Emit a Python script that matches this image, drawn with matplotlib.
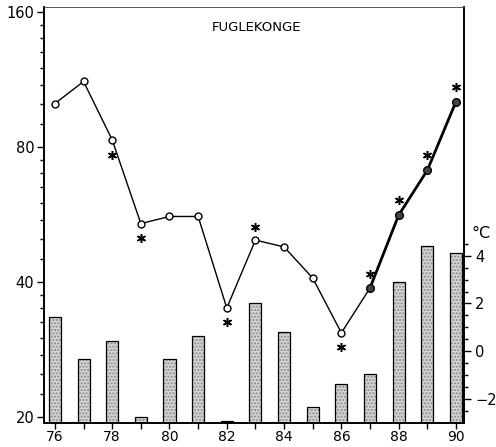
import numpy as np
import matplotlib.pyplot as plt
from matplotlib.ticker import FixedLocator, NullFormatter

# years on the x axis
years = np.arange(76, 91)

# bird index (log scale, left axis)
index = [100, 112, 83, 54, 56, 56, 35, 49.6, 47.9, 40.8, 30.8, 38.8, 56.4, 71, 101]
# asterisk estimates
star_years = [78, 79, 82, 83, 86, 87, 88, 89, 90]
star_vals = [76.8, 50.1, 32.6, 53.1, 28.7, 41.7, 60.9, 76.8, 108.7]
# temperature bars (right axis, degC)
temp = [1.42, -0.33, 0.42, -2.75, -0.33, 0.63, -2.9, 2.03, 0.8, -2.32,
        -1.37, -0.97, 2.9, 4.4, 4.12]

fig = plt.figure(figsize=(4.96, 4.47), dpi=100)
ax = fig.add_axes([44/496, 24/447, 420/496, 416/447])
ax2 = ax.twinx()
ax.set_zorder(ax2.get_zorder() + 1)
ax.patch.set_visible(False)

# bars from the bottom of the axis
base = -3
ax2.bar(years, np.array(temp) - base, bottom=base, width=0.42,
        color='#d4d4d4', edgecolor='#8a8a8a', hatch='.....', linewidth=0)
ax2.bar(years, np.array(temp) - base, bottom=base, width=0.42,
        fill=False, edgecolor='black', linewidth=0.9)
ax2.set_ylim(-3, 14.4)
ax2.set_yticks([-2, 0, 2, 4])
ax2.yaxis.set_minor_locator(FixedLocator([-2.5, -1.5, -1, -0.5, 0.5, 1, 1.5, 2.5, 3, 3.5, 4.5]))
ax2.tick_params(axis='y', which='major', length=5, width=1, labelsize=10.5, pad=3)
ax2.tick_params(axis='y', which='minor', length=3, width=1)
ax2.text(481, 447 - 234, '°C', transform=None, fontsize=11.5, ha='center', va='center')

# index line: thin part, then heavy part from 87
ax.set_yscale('log')
thin = years <= 87
ax.plot(years[thin], np.array(index)[thin], color='black', lw=1.0, zorder=3)
ax.plot(years[years >= 87], np.array(index)[years >= 87], color='black', lw=2.0, zorder=3)
ax.plot(years[years <= 86], np.array(index)[years <= 86], 'o', mfc='white', mec='black',
        ms=5, mew=1.0, zorder=4)
ax.plot(years[years >= 87], np.array(index)[years >= 87], 'o', mfc='#444444', mec='black',
        ms=5.5, mew=1.0, zorder=4)
ax.plot(star_years, star_vals, ls='none', marker=(6, 2, 0), color='black', ms=6.5, mew=1.1,
        zorder=4)

ax.set_xlim(75.62, 90.28)
ax.set_ylim(19.39, 164.2)
ax.set_yticks([20, 40, 80, 160])
ax.set_yticklabels(['20', '40', '80', '160'])
minors = [22.5, 25, 27.5, 30, 32.5, 35, 37.5, 45, 50, 55, 60, 65, 70, 75,
          90, 100, 110, 120, 130, 140, 150]
ax.yaxis.set_minor_locator(FixedLocator(minors))
ax.yaxis.set_minor_formatter(NullFormatter())
ax.set_xticks(years)
ax.set_xticklabels([str(y) if y % 2 == 0 else '' for y in years])
ax.tick_params(axis='both', which='major', length=5, width=1, labelsize=10.5, pad=2)
ax.tick_params(axis='x', which='major', length=4, labelsize=10, pad=1)
ax.tick_params(axis='y', which='minor', length=3, width=1)

for a in (ax, ax2):
    for s in a.spines.values():
        s.set_linewidth(1.2)
    a.spines['top'].set_linewidth(0.6)
    a.spines['top'].set_color('#555555')

ax.text(0.507, 0.95, 'FUGLEKONGE', transform=ax.transAxes, ha='center', va='center',
        fontsize=9.5)

fig.savefig('out.png', dpi=100)
